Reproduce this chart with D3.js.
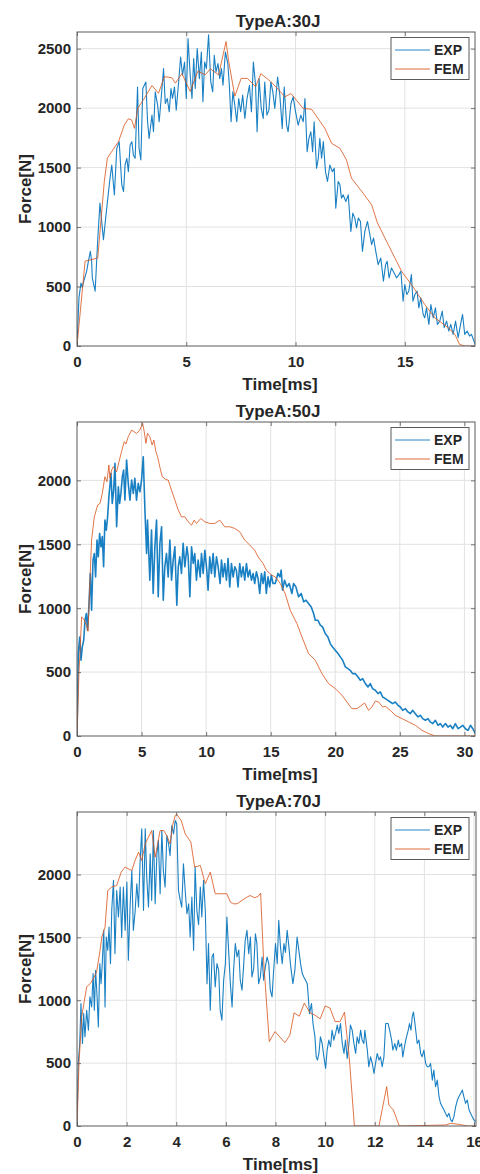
<!DOCTYPE html>
<html><head><meta charset="utf-8">
<script src="https://cdn.jsdelivr.net/npm/d3@7"></script>
<style>
body{margin:0;background:#fff}
svg{display:block}
text{font-family:"Liberation Sans",Arial,sans-serif;font-weight:bold;fill:#262626}
</style>
</head><body>
<svg id="c" width="480" height="1174"></svg>
<script>
// ---------- data ----------
const titles = ["TypeA:30J", "TypeA:50J", "TypeA:70J"];
const seriesNames = ["EXP", "FEM"];
const xLabel = "Time[ms]";
const yLabel = "Force[N]";

const xTicks30 = [0, 5, 10, 15];
const xTicks50 = [0, 5, 10, 15, 20, 25, 30];
const xTicks70 = [0, 2, 4, 6, 8, 10, 12, 14, 16];
const yTicks30 = [0, 500, 1000, 1500, 2000, 2500];
const yTicks50 = [0, 500, 1000, 1500, 2000];
const yTicks70 = [0, 500, 1000, 1500, 2000];

const exp30 = [[0,0],[0.09,405],[0.18,530],[0.24,490],[0.31,545],[0.44,628],[0.52,712],[0.61,796],[0.67,712],[0.70,573],[0.83,461],[0.95,900],
[1.05,1201],[1.21,894],[1.36,1159],[1.51,1410],[1.59,1522],[1.71,1271],[1.82,1662],[1.93,1718],[2.05,1355],[2.13,1299],[2.2,1522],[2.28,1578],[2.35,1466],[2.43,1690],[2.51,1718],[2.58,1606],[2.66,1578],[2.77,2178],[2.84,1662],[2.92,1564],[3.01,2165],[3.15,2220],[3.23,1885],[3.3,1746],[3.43,1941],[3.5,1801],[3.58,2137],[3.69,2025],[3.76,1885],[3.85,2081],[3.96,2332],[4.04,2039],[4.13,2081],[4.22,1969],[4.3,2165],[4.37,2081],[4.46,2178],[4.54,1983],[4.65,2220],[4.74,2430],[4.83,2276],[4.92,2388],[5.0,2081],[5.08,2584],[5.17,2304],[5.26,2081],[5.34,2416],[5.41,2165],[5.5,2500],[5.6,2248],[5.69,2472],[5.76,2053],[5.84,2388],[5.92,2332],[6.02,2617],[6.12,2220],[6.21,2137],[6.28,2444],[6.36,2304],[6.45,2374],[6.53,2248],[6.61,2332],[6.68,2192],[6.79,2472],[6.9,2374],[6.97,2192],[7.05,1885],[7.13,2137],[7.22,2025],[7.31,1885],[7.4,2081],[7.49,1969],[7.58,2109],[7.68,1913],[7.78,2081],[7.89,2192],[7.98,1969],[8.07,2388],[8.17,2192],[8.24,1801],[8.33,2248],[8.43,1997],[8.52,1913],[8.59,2220],[8.69,1941],[8.78,1983],[8.87,2220],[8.96,2137],[9.05,1997],[9.18,2262],[9.28,2109],[9.39,1829],[9.48,2178],[9.59,1857],[9.66,1801],[9.79,2039],[9.89,2095],[10.0,1969],[10.12,1857],[10.24,1941],[10.35,1885],[10.43,2081],[10.53,1634],[10.61,1746],[10.7,1801],[10.78,1634],[10.85,1885],[10.96,1494],[11.04,1578],[11.11,1746],[11.19,1578],[11.27,1718],[11.37,1466],[11.46,1383],[11.57,1522],[11.68,1466],[11.77,1494],[11.84,1159],[11.95,1383],[12.03,1355],[12.1,1243],[12.18,1271],[12.3,1215],[12.41,1271],[12.53,964],[12.62,1117],[12.71,1075],[12.79,992],[12.87,1075],[12.97,1047],[13.06,796],[13.17,964],[13.29,1047],[13.4,936],[13.48,852],[13.57,908],[13.67,796],[13.78,684],[13.9,740],[14.02,545],[14.12,684],[14.19,712],[14.28,573],[14.39,656],[14.51,614],[14.62,573],[14.73,600],[14.82,628],[14.92,377],[15.0,517],[15.09,433],[15.18,461],[15.3,600],[15.37,377],[15.46,433],[15.56,461],[15.64,321],[15.73,405],[15.84,265],[15.91,237],[15.99,321],[16.1,182],[16.19,349],[16.3,237],[16.4,321],[16.49,182],[16.6,209],[16.71,293],[16.8,154],[16.91,209],[17.01,126],[17.1,182],[17.21,98],[17.32,209],[17.44,70],[17.55,182],[17.64,265],[17.74,98],[17.85,126],[17.96,84],[18.05,98],[18.16,42],[18.25,0]];

const fem30 = [[0,0],[0.37,713],[0.95,740],[1.25,1385],[1.39,1580],[1.9,1720],[2.17,1860],[2.35,1910],[2.5,1900],[2.63,1830],[2.78,2000],[3.04,2070],[3.43,2190],[3.73,2125],[4.0,2265],[4.34,2255],[4.5,2210],[4.8,2290],[5.18,2140],[5.53,2310],[5.87,2280],[6.1,2330],[6.48,2280],[6.82,2560],[6.94,2395],[7.22,2100],[7.51,2250],[7.8,2250],[8.17,2180],[8.41,2290],[8.85,2225],[9.2,2160],[9.51,2095],[9.79,2123],[10.35,1997],[10.73,1991],[11.34,1830],[11.65,1704],[12.03,1662],[12.33,1564],[12.56,1410],[13.09,1285],[13.48,1187],[13.75,1033],[14.24,852],[14.85,628],[15.3,517],[15.91,349],[16.37,237],[16.98,154],[17.29,98],[17.5,14],[17.74,0],[18.3,0]];

const exp50 = [[0,0],[0.1,645],[0.21,775],[0.31,593],[0.41,697],[0.52,749],[0.62,906],[0.72,958],[0.82,828],[0.93,1037],[1.03,1272],[1.13,984],[1.24,1376],[1.34,1428],[1.44,1245],[1.55,1533],[1.65,1402],[1.75,1585],[1.86,1480],[1.96,1560],[2.06,1324],[2.16,1689],[2.27,1611],[2.37,1715],[2.47,1872],[2.55,1960],[2.63,2055],[2.73,1820],[2.84,1924],[2.94,2133],[3.07,1637],[3.2,1950],[3.3,1820],[3.4,1898],[3.51,2029],[3.61,2081],[3.71,1846],[3.84,2159],[3.97,1977],[4.1,1846],[4.23,2003],[4.36,1898],[4.48,2016],[4.61,1846],[4.74,1977],[4.87,1911],[5.0,2003],[5.13,2185],[5.26,1768],[5.39,1428],[5.46,1689],[5.55,1450],[5.64,1219],[5.77,1611],[5.9,1115],[6.03,1480],[6.16,1689],[6.29,1089],[6.42,1507],[6.55,1637],[6.68,1063],[6.8,1324],[6.93,1428],[7.06,1245],[7.19,1533],[7.32,1219],[7.45,1376],[7.58,1480],[7.73,1023],[7.84,1324],[7.96,1402],[8.09,1272],[8.22,1507],[8.35,1324],[8.51,1480],[8.61,1402],[8.74,1089],[8.87,1480],[9.0,1350],[9.12,1428],[9.25,1219],[9.38,1376],[9.54,1245],[9.64,1428],[9.77,1272],[9.9,1454],[10.05,1298],[10.15,1141],[10.28,1402],[10.41,1272],[10.54,1428],[10.67,1245],[10.8,1402],[10.93,1324],[11.08,1193],[11.19,1376],[11.31,1245],[11.44,1350],[11.57,1219],[11.7,1389],[11.83,1167],[11.96,1350],[12.09,1245],[12.22,1324],[12.34,1298],[12.47,1167],[12.6,1350],[12.73,1245],[12.86,1324],[12.99,1219],[13.12,1350],[13.25,1245],[13.38,1298],[13.51,1219],[13.64,1272],[13.76,1193],[13.89,1285],[14.02,1232],[14.15,1115],[14.28,1272],[14.41,1193],[14.54,1285],[14.66,1115],[14.79,1245],[14.92,1167],[15.05,1258],[15.18,1193],[15.35,1193],[15.56,1272],[15.71,1245],[15.81,1298],[15.92,1141],[16.07,1219],[16.25,1167],[16.43,1193],[16.64,1115],[16.77,1193],[16.95,1167],[17.16,1089],[17.36,1115],[17.55,1050],[17.73,1063],[17.93,1037],[18.14,1010],[18.32,958],[18.45,906],[18.66,906],[18.84,867],[19.02,854],[19.22,802],[19.43,775],[19.61,723],[19.79,697],[20.0,671],[20.21,645],[20.39,619],[20.57,593],[20.78,541],[20.98,527],[21.16,514],[21.34,488],[21.55,488],[21.76,462],[21.94,436],[22.12,449],[22.33,410],[22.53,384],[22.71,410],[22.89,371],[23.1,358],[23.31,332],[23.49,345],[23.67,305],[23.88,292],[24.08,279],[24.26,266],[24.44,253],[24.65,266],[24.86,240],[25.04,227],[25.22,201],[25.43,214],[25.63,188],[25.81,175],[25.99,201],[26.2,175],[26.41,149],[26.59,162],[26.77,136],[26.98,123],[27.18,136],[27.36,110],[27.55,97],[27.75,123],[27.96,84],[28.14,97],[28.32,70],[28.53,97],[28.73,70],[28.91,84],[29.1,57],[29.3,97],[29.51,57],[29.69,70],[29.87,84],[30.08,57],[30.28,44],[30.47,84],[30.65,57],[30.85,18]];

const fem50 = [[0,0],[0.15,488],[0.36,932],[0.57,906],[0.77,854],[0.85,820],[1.13,1533],[1.34,1715],[1.6,1807],[1.78,1820],[1.96,1898],[2.16,2029],[2.32,1990],[2.47,2120],[2.55,2016],[2.68,2081],[2.81,2107],[3.07,2068],[3.25,2146],[3.45,2225],[3.66,2303],[3.79,2285],[3.97,2342],[4.23,2394],[4.61,2368],[4.87,2394],[5.08,2447],[5.21,2381],[5.34,2290],[5.46,2368],[5.64,2342],[5.82,2277],[5.95,2316],[6.11,2225],[6.24,2185],[6.44,2094],[6.6,2029],[6.86,2008],[7.06,2003],[7.32,1924],[7.58,1846],[7.84,1768],[8.09,1715],[8.35,1715],[8.61,1676],[8.87,1650],[9.07,1689],[9.25,1663],[9.59,1702],[9.9,1676],[10.28,1663],[10.67,1663],[11.06,1689],[11.44,1637],[11.83,1637],[12.22,1624],[12.6,1598],[12.99,1533],[13.38,1494],[13.76,1454],[14.02,1402],[14.41,1350],[14.66,1298],[15.05,1260],[15.35,1245],[15.74,1193],[16.12,1115],[16.51,984],[17.03,880],[17.42,775],[17.93,645],[18.45,593],[18.97,488],[19.48,410],[20.0,371],[20.52,319],[20.9,266],[21.29,214],[21.68,214],[22.27,258],[22.58,201],[22.84,227],[23.1,274],[23.36,266],[23.67,227],[23.88,232],[24.26,201],[24.65,162],[25.17,136],[25.68,110],[26.2,84],[26.72,44],[27.24,18],[27.75,0],[31.1,0]];

const exp70 = [[0,0],[0.05,497],[0.11,656],[0.16,974],[0.22,656],[0.27,894],[0.32,709],[0.39,921],[0.46,762],[0.52,1027],[0.59,947],[0.65,1212],[0.7,921],[0.75,1238],[0.81,1027],[0.86,788],[0.92,1291],[0.97,1132],[1.02,1300],[1.08,1556],[1.13,947],[1.18,1503],[1.24,1397],[1.29,1582],[1.35,1291],[1.4,1715],[1.47,1953],[1.53,1371],[1.6,1873],[1.67,1662],[1.74,1900],[1.8,1500],[1.87,1900],[1.94,1556],[2.01,1939],[2.07,1318],[2.14,1750],[2.21,2032],[2.27,1556],[2.34,1700],[2.41,1926],[2.48,1741],[2.54,2085],[2.61,2363],[2.68,1715],[2.75,2363],[2.81,1979],[2.88,1741],[2.95,2164],[3.01,1794],[3.08,2350],[3.15,1767],[3.22,2164],[3.28,2270],[3.35,1847],[3.42,2350],[3.48,2032],[3.55,1900],[3.62,2310],[3.69,2244],[3.75,2150],[3.82,2389],[3.89,2323],[3.96,2429],[4.02,2402],[4.09,1873],[4.16,1794],[4.22,1740],[4.29,2085],[4.36,1873],[4.43,1688],[4.5,1767],[4.56,1503],[4.63,1820],[4.7,1397],[4.76,2059],[4.83,1715],[4.9,1600],[4.97,1900],[5.03,1662],[5.1,1953],[5.17,1715],[5.24,1132],[5.3,1450],[5.37,921],[5.44,1344],[5.5,1371],[5.57,1106],[5.64,1291],[5.71,1238],[5.77,921],[5.84,841],[5.91,1159],[5.98,1291],[6.04,1662],[6.11,1397],[6.18,1132],[6.25,947],[6.31,1238],[6.38,1450],[6.45,1344],[6.52,1400],[6.58,1159],[6.65,1080],[6.72,1291],[6.78,1476],[6.85,1556],[6.92,1371],[6.99,1503],[7.05,1185],[7.12,1250],[7.19,1529],[7.25,1450],[7.32,1132],[7.39,1185],[7.46,1344],[7.52,1159],[7.59,1265],[7.66,1344],[7.73,1291],[7.79,1080],[7.86,1027],[7.93,1250],[8.0,1450],[8.07,1291],[8.13,1635],[8.2,1424],[8.27,1291],[8.34,1450],[8.4,1380],[8.47,1556],[8.54,1424],[8.6,1291],[8.7,1132],[8.78,1238],[8.87,1503],[8.94,1397],[9.01,1291],[9.08,1212],[9.14,1185],[9.21,1159],[9.28,1132],[9.37,894],[9.45,974],[9.51,815],[9.59,709],[9.64,550],[9.69,524],[9.75,577],[9.81,709],[9.88,656],[9.95,550],[10.02,458],[10.08,603],[10.15,683],[10.22,630],[10.28,762],[10.35,683],[10.42,736],[10.49,802],[10.55,736],[10.62,815],[10.69,656],[10.76,577],[10.82,683],[10.89,537],[10.96,656],[11.02,802],[11.09,762],[11.16,656],[11.23,577],[11.29,709],[11.36,656],[11.43,762],[11.49,683],[11.56,656],[11.6,762],[11.7,603],[11.76,471],[11.83,550],[11.9,497],[11.97,418],[12.03,497],[12.1,577],[12.17,524],[12.23,550],[12.3,471],[12.37,550],[12.44,815],[12.54,815],[12.6,762],[12.68,683],[12.73,603],[12.81,656],[12.87,603],[12.95,683],[13.0,630],[13.08,656],[13.13,550],[13.22,656],[13.28,709],[13.35,762],[13.4,815],[13.46,762],[13.51,868],[13.56,907],[13.62,815],[13.71,656],[13.78,683],[13.85,577],[13.91,550],[13.98,603],[14.05,497],[14.12,471],[14.18,471],[14.25,497],[14.32,365],[14.38,445],[14.45,312],[14.52,365],[14.59,233],[14.65,180],[14.72,153],[14.79,127],[14.85,101],[14.92,74],[14.99,101],[15.06,48],[15.12,34],[15.19,74],[15.26,153],[15.33,206],[15.39,233],[15.46,259],[15.53,286],[15.59,233],[15.66,180],[15.73,206],[15.8,127],[15.86,101],[15.93,74],[16.0,48],[16.06,34]];

const fem70 = [[0,0],[0.08,497],[0.19,868],[0.3,1000],[0.39,1106],[0.53,1132],[0.66,1172],[0.79,1225],[0.93,1397],[1.0,1503],[1.13,1582],[1.24,1873],[1.4,1900],[1.6,1913],[1.78,2019],[1.94,2059],[2.07,2045],[2.21,2032],[2.34,2111],[2.48,2178],[2.61,2111],[2.75,2244],[2.88,2297],[3.01,2350],[3.15,2138],[3.35,2350],[3.49,2350],[3.62,2310],[3.75,2244],[3.85,2389],[3.96,2469],[4.02,2477],[4.2,2429],[4.36,2323],[4.59,2257],[4.74,2059],[4.97,2072],[5.17,1926],[5.37,2019],[5.57,1847],[5.84,1847],[6.04,1847],[6.18,1781],[6.31,1767],[6.45,1767],[6.65,1794],[6.85,1820],[6.98,1833],[7.16,1815],[7.3,1826],[7.4,1852],[7.52,1318],[7.66,921],[7.75,671],[7.98,751],[8.38,663],[8.58,723],[8.75,900],[8.96,873],[9.16,977],[9.39,900],[9.6,880],[9.8,852],[10.0,955],[10.2,937],[10.4,830],[10.6,830],[10.78,905],[10.98,525],[11.18,0],[12.17,0],[12.48,313],[12.57,167],[12.75,127],[12.99,0],[14.85,8],[15.06,21],[15.39,13],[15.73,0],[16.2,0]];

// ---------- drawing ----------
const svg = d3.select("#c");
const C_EXP = "#0072BD", C_FEM = "#D95319";
const panels = [
  {title: titles[0], exp: exp30, fem: fem30, xMax: 18.21, yMax: 2640, xTicks: xTicks30, yTicks: yTicks30, top: 32, right: 475, expW: 1.1},
  {title: titles[1], exp: exp50, fem: fem50, xMax: 30.82, yMax: 2457, xTicks: xTicks50, yTicks: yTicks50, top: 422, right: 475, expW: 1.6},
  {title: titles[2], exp: exp70, fem: fem70, xMax: 16.08, yMax: 2497, xTicks: xTicks70, yTicks: yTicks70, top: 812, right: 476, expW: 1.1}
];
const left = 77, ph = 314;

panels.forEach((p, i) => {
  const top = p.top, bottom = top + ph;
  const x = d3.scaleLinear().domain([0, p.xMax]).range([left, p.right]);
  const y = d3.scaleLinear().domain([0, p.yMax]).range([bottom, top]);
  const g = svg.append("g");

  g.append("rect").attr("x", left).attr("y", top).attr("width", p.right - left).attr("height", ph).attr("fill", "#fff");

  // grid
  g.append("g").selectAll("line").data(p.xTicks.filter(t => t > 0)).join("line")
    .attr("x1", d => x(d)).attr("x2", d => x(d)).attr("y1", top).attr("y2", bottom)
    .attr("stroke", "#e2e2e2").attr("stroke-width", 1);
  g.append("g").selectAll("line").data(p.yTicks.filter(t => t > 0)).join("line")
    .attr("y1", d => y(d)).attr("y2", d => y(d)).attr("x1", left).attr("x2", p.right)
    .attr("stroke", "#e2e2e2").attr("stroke-width", 1);

  const clipId = "clip" + i;
  svg.append("clipPath").attr("id", clipId).append("rect")
    .attr("x", left).attr("y", top - 1).attr("width", p.right - left).attr("height", ph + 1);

  const line = d3.line().x(d => x(d[0])).y(d => y(d[1]));
  const lg = g.append("g").attr("clip-path", `url(#${clipId})`);
  lg.append("path").datum(p.exp).attr("d", line).attr("fill", "none")
    .attr("stroke", C_EXP).attr("stroke-width", p.expW).attr("stroke-opacity", 0.9).attr("stroke-linejoin", "round");
  lg.append("path").datum(p.fem).attr("d", line).attr("fill", "none")
    .attr("stroke", C_FEM).attr("stroke-width", 1).attr("stroke-opacity", 0.8).attr("stroke-linejoin", "round");

  // axes
  const ax = g.append("g").attr("transform", `translate(0,${bottom})`)
    .call(d3.axisBottom(x).tickValues(p.xTicks).tickSize(-4).tickPadding(10).tickFormat(d3.format("d")));
  const ay = g.append("g").attr("transform", `translate(${left},0)`)
    .call(d3.axisLeft(y).tickValues(p.yTicks).tickSize(-4).tickPadding(6).tickFormat(d3.format("d")));
  const axT = g.append("g").attr("transform", `translate(0,${top})`)
    .call(d3.axisTop(x).tickValues(p.xTicks).tickSize(-4).tickFormat(""));
  const ayR = g.append("g").attr("transform", `translate(${p.right},0)`)
    .call(d3.axisRight(y).tickValues(p.yTicks).tickSize(-4).tickFormat(""));
  [ax, ay, axT, ayR].forEach(a => {
    a.select(".domain").remove();
    a.selectAll(".tick line").attr("stroke", "#555").attr("stroke-width", 0.8);
    a.selectAll("text").attr("font-size", 15).attr("fill", "#262626")
      .attr("font-family", '"Liberation Sans",Arial,sans-serif').attr("font-weight", "bold");
  });

  g.append("rect").attr("x", left).attr("y", top).attr("width", p.right - left).attr("height", ph)
    .attr("fill", "none").attr("stroke", "#5a5a5a").attr("stroke-width", 1);

  // title & labels
  g.append("text").attr("x", (left + p.right) / 2 + 2).attr("y", top - 5)
    .attr("text-anchor", "middle").attr("font-size", 17).text(p.title);
  g.append("text").attr("x", (left + p.right) / 2 + 4).attr("y", bottom + 44)
    .attr("text-anchor", "middle").attr("font-size", 17).text(xLabel);
  g.append("text").attr("transform", `translate(31,${(top + bottom) / 2}) rotate(-90)`)
    .attr("text-anchor", "middle").attr("font-size", 17).text(yLabel);

  // legend
  const L = g.append("g");
  L.append("rect").attr("x", 391).attr("y", top + 5.5).attr("width", 78).attr("height", 42)
    .attr("fill", "#fff").attr("stroke", "#5a5a5a").attr("stroke-width", 1);
  [[seriesNames[0], C_EXP, 18], [seriesNames[1], C_FEM, 37]].forEach(([name, col, dy]) => {
    L.append("line").attr("x1", 395).attr("x2", 430).attr("y1", top + dy).attr("y2", top + dy)
      .attr("stroke", col).attr("stroke-width", 1).attr("stroke-opacity", 0.85);
    L.append("text").attr("x", 434).attr("y", top + dy + 5).attr("font-size", 14).text(name);
  });
});
</script>
</body></html>
